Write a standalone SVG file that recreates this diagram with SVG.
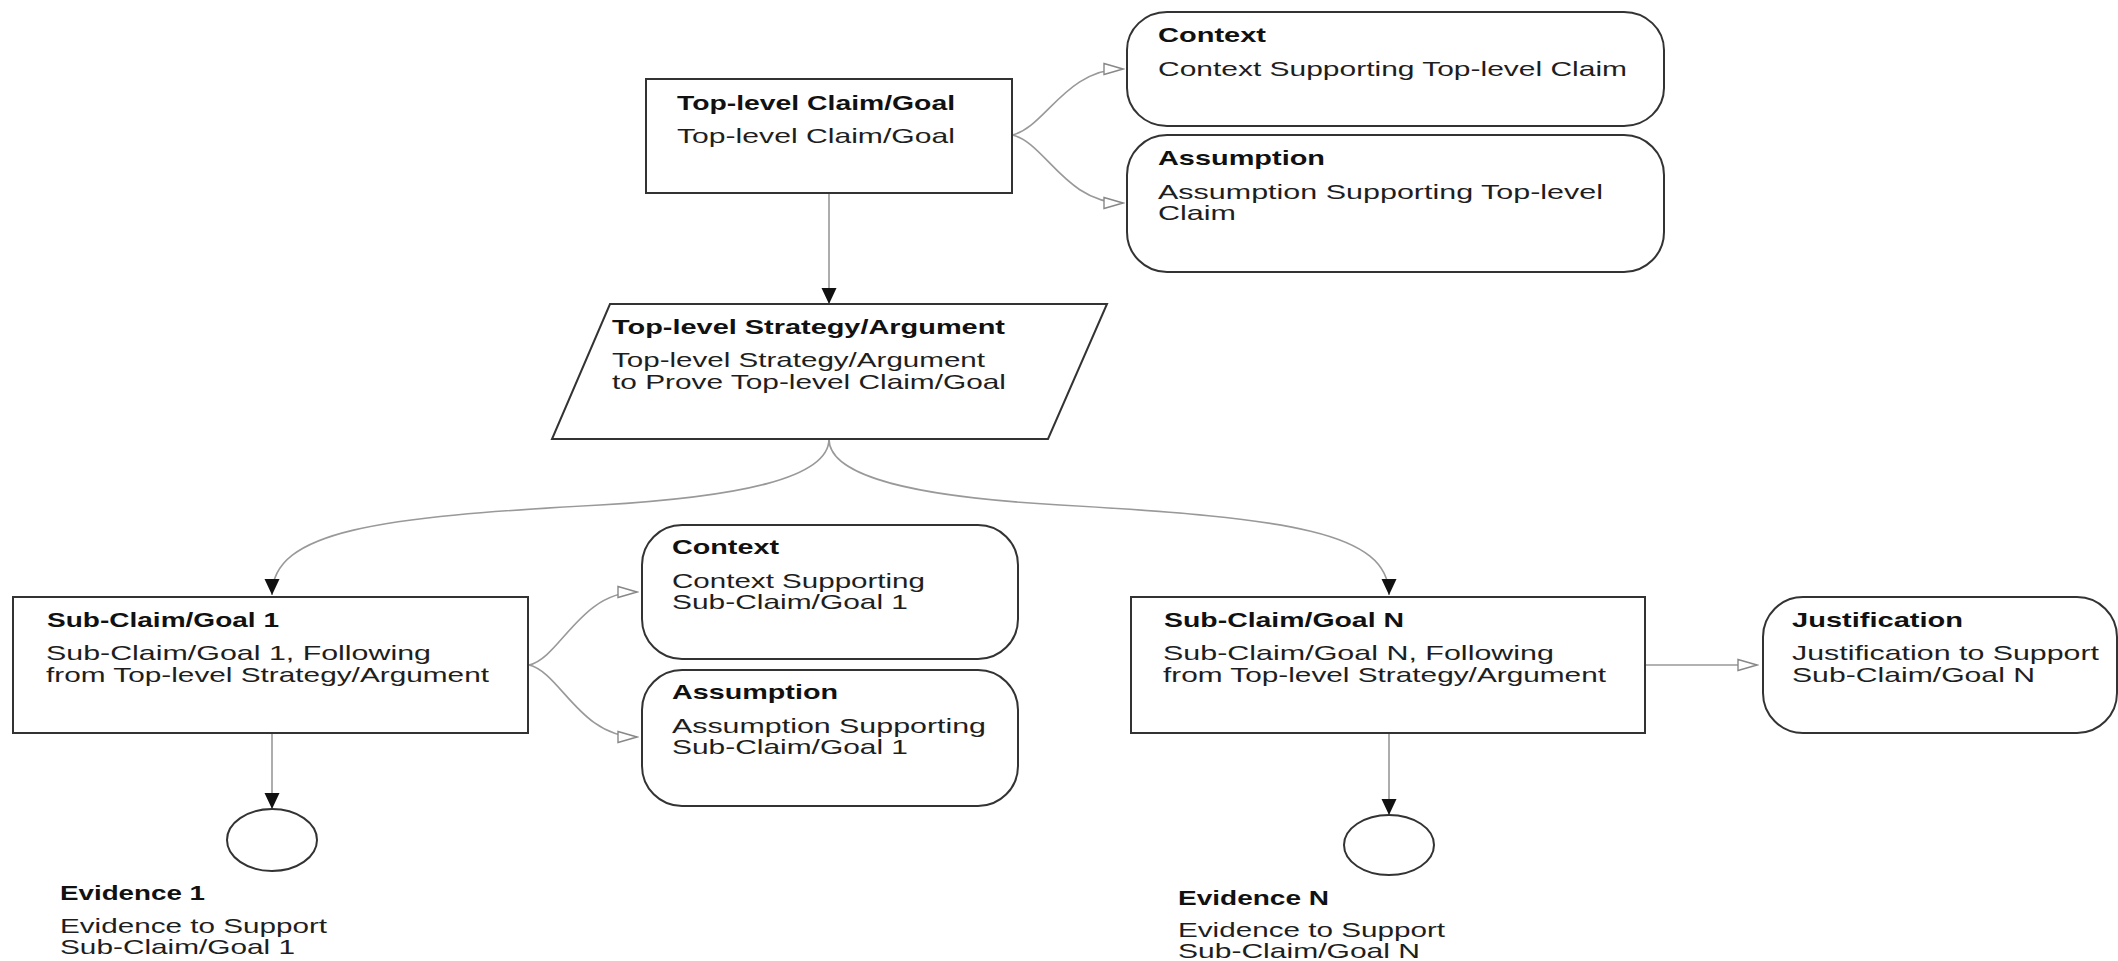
<svg xmlns="http://www.w3.org/2000/svg" width="2118" height="961" viewBox="0 0 2118 961">
<defs>
<style>
.box{fill:#fff;stroke:#333;stroke-width:2}
.conn{fill:none;stroke:#999;stroke-width:1.6}
.t{font-family:"Liberation Sans",Arial,sans-serif;font-size:21px;fill:#1e1e1e}
.b{font-weight:bold;fill:#111}
</style>
<marker id="solid" markerWidth="16" markerHeight="16" refX="16" refY="8" orient="auto" markerUnits="userSpaceOnUse"><path d="M0,0.5 L16,8 L0,15.5 Z" fill="#111"/></marker>
<marker id="open" markerWidth="22" markerHeight="14" refX="20" refY="7" orient="auto" markerUnits="userSpaceOnUse"><path d="M1,1.5 L20,7 L1,12.5 Z" fill="#fff" stroke="#888" stroke-width="1.4"/></marker>
</defs>
<rect width="2118" height="961" fill="#fff"/>

<g id="connectors">
<path class="conn" d="M829,193 L829,304" marker-end="url(#solid)"/>
<path class="conn" d="M1012,135 C1045,128 1065,69 1123,69" marker-end="url(#open)"/>
<path class="conn" d="M1012,135 C1045,142 1065,203 1123,203" marker-end="url(#open)"/>
<path class="conn" d="M829,439 C829,478 740,497 600,505 C380,517 272,530 272,595" marker-end="url(#solid)"/>
<path class="conn" d="M829,439 C829,478 920,497 1060,505 C1290,518 1389,532 1389,595" marker-end="url(#solid)"/>
<path class="conn" d="M529,665 C560,658 580,592 637,592" marker-end="url(#open)"/>
<path class="conn" d="M529,665 C560,672 580,737 637,737" marker-end="url(#open)"/>
<path class="conn" d="M1645,665 L1757,665" marker-end="url(#open)"/>
<path class="conn" d="M272,733 L272,809" marker-end="url(#solid)"/>
<path class="conn" d="M1389,733 L1389,815" marker-end="url(#solid)"/>
</g>

<g id="top-claim">
<rect class="box" x="646" y="79" width="366" height="114"/>
<text class="t b" x="677" y="110" textLength="278" lengthAdjust="spacingAndGlyphs">Top-level Claim/Goal</text>
<text class="t" x="677" y="143" textLength="278" lengthAdjust="spacingAndGlyphs">Top-level Claim/Goal</text>
</g>

<g id="top-context">
<rect class="box" x="1127" y="12" width="537" height="114" rx="40" ry="38"/>
<text class="t b" x="1158" y="42" textLength="108" lengthAdjust="spacingAndGlyphs">Context</text>
<text class="t" x="1158" y="76" textLength="469" lengthAdjust="spacingAndGlyphs">Context Supporting Top-level Claim</text>
</g>

<g id="top-assumption">
<rect class="box" x="1127" y="135" width="537" height="137" rx="40" ry="40"/>
<text class="t b" x="1158" y="165" textLength="167" lengthAdjust="spacingAndGlyphs">Assumption</text>
<text class="t" x="1158" y="199" textLength="445" lengthAdjust="spacingAndGlyphs">Assumption Supporting Top-level</text>
<text class="t" x="1158" y="220" textLength="78" lengthAdjust="spacingAndGlyphs">Claim</text>
</g>

<g id="top-strategy">
<polygon class="box" points="610,304 1107,304 1048,439 552,439"/>
<text class="t b" x="612" y="334" textLength="393" lengthAdjust="spacingAndGlyphs">Top-level Strategy/Argument</text>
<text class="t" x="612" y="367" textLength="373" lengthAdjust="spacingAndGlyphs">Top-level Strategy/Argument</text>
<text class="t" x="612" y="389" textLength="394" lengthAdjust="spacingAndGlyphs">to Prove Top-level Claim/Goal</text>
</g>

<g id="sub-claim-1">
<rect class="box" x="13" y="597" width="515" height="136"/>
<text class="t b" x="47" y="627" textLength="232" lengthAdjust="spacingAndGlyphs">Sub-Claim/Goal 1</text>
<text class="t" x="46" y="660" textLength="385" lengthAdjust="spacingAndGlyphs">Sub-Claim/Goal 1, Following</text>
<text class="t" x="46" y="682" textLength="443" lengthAdjust="spacingAndGlyphs">from Top-level Strategy/Argument</text>
</g>

<g id="context-1">
<rect class="box" x="642" y="525" width="376" height="134" rx="40" ry="40"/>
<text class="t b" x="672" y="554" textLength="107" lengthAdjust="spacingAndGlyphs">Context</text>
<text class="t" x="672" y="588" textLength="253" lengthAdjust="spacingAndGlyphs">Context Supporting</text>
<text class="t" x="672" y="609" textLength="236" lengthAdjust="spacingAndGlyphs">Sub-Claim/Goal 1</text>
</g>

<g id="assumption-1">
<rect class="box" x="642" y="670" width="376" height="136" rx="40" ry="40"/>
<text class="t b" x="672" y="699" textLength="166" lengthAdjust="spacingAndGlyphs">Assumption</text>
<text class="t" x="672" y="733" textLength="314" lengthAdjust="spacingAndGlyphs">Assumption Supporting</text>
<text class="t" x="672" y="754" textLength="236" lengthAdjust="spacingAndGlyphs">Sub-Claim/Goal 1</text>
</g>

<g id="evidence-1">
<ellipse class="box" cx="272" cy="840" rx="45" ry="31"/>
<text class="t b" x="60" y="900" textLength="145" lengthAdjust="spacingAndGlyphs">Evidence 1</text>
<text class="t" x="60" y="933" textLength="267" lengthAdjust="spacingAndGlyphs">Evidence to Support</text>
<text class="t" x="60" y="954" textLength="235" lengthAdjust="spacingAndGlyphs">Sub-Claim/Goal 1</text>
</g>

<g id="sub-claim-n">
<rect class="box" x="1131" y="597" width="514" height="136"/>
<text class="t b" x="1164" y="627" textLength="240" lengthAdjust="spacingAndGlyphs">Sub-Claim/Goal N</text>
<text class="t" x="1163" y="660" textLength="391" lengthAdjust="spacingAndGlyphs">Sub-Claim/Goal N, Following</text>
<text class="t" x="1163" y="682" textLength="443" lengthAdjust="spacingAndGlyphs">from Top-level Strategy/Argument</text>
</g>

<g id="justification">
<rect class="box" x="1763" y="597" width="354" height="136" rx="40" ry="40"/>
<text class="t b" x="1792" y="627" textLength="171" lengthAdjust="spacingAndGlyphs">Justification</text>
<text class="t" x="1792" y="660" textLength="307" lengthAdjust="spacingAndGlyphs">Justification to Support</text>
<text class="t" x="1792" y="682" textLength="243" lengthAdjust="spacingAndGlyphs">Sub-Claim/Goal N</text>
</g>

<g id="evidence-n">
<ellipse class="box" cx="1389" cy="845" rx="45" ry="30"/>
<text class="t b" x="1178" y="905" textLength="151" lengthAdjust="spacingAndGlyphs">Evidence N</text>
<text class="t" x="1178" y="937" textLength="267" lengthAdjust="spacingAndGlyphs">Evidence to Support</text>
<text class="t" x="1178" y="958" textLength="242" lengthAdjust="spacingAndGlyphs">Sub-Claim/Goal N</text>
</g>
</svg>
